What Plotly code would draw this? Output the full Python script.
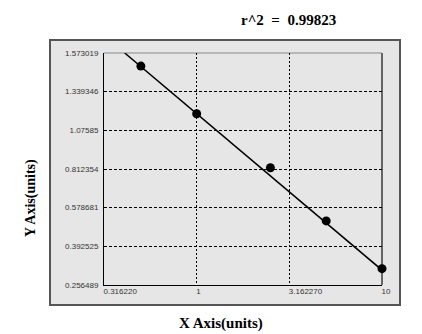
import numpy as np
import plotly.graph_objects as go

# ---- data ----
x_points = [0.5, 1.0, 2.5, 5.0, 10.0]
y_points = [1.494, 1.189, 0.821, 0.515, 0.314]
fit_x = [0.409, 10.0]
fit_y = [1.573019, 0.309]
x_tickvals = [0.31622, 1.0, 3.16227, 10.0]
x_ticktext = ["0.316220", "1", "3.162270", "10"]
y_tickvals = [0.256489, 0.392525, 0.578681, 0.812354, 1.07585, 1.339346, 1.573019]
y_ticktext = ["0.256489", "0.392525", "0.578681", "0.812354", "1.07585", "1.339346", "1.573019"]
r2_text = "r^2  =  0.99823"

# y scale: ticks evenly spaced (piecewise-linear scale between tick values)
y_pos = np.arange(len(y_tickvals), dtype=float)
def yscale(v):
    return np.interp(v, y_tickvals, y_pos)

W, H = 422, 334
L, R, T, B = 104, 382, 53, 285

fig = go.Figure()
fig.add_trace(go.Scatter(x=fit_x, y=yscale(fit_y), mode="lines",
                         line=dict(color="black", width=1.5), hoverinfo="skip"))
fig.add_trace(go.Scatter(x=x_points, y=yscale(y_points), mode="markers",
                         marker=dict(color="black", size=9), cliponaxis=False))

def px_x(p):
    return (p - L) / (R - L)
def px_y(p):
    return (B - p) / (B - T)

shapes = [
    dict(type="rect", xref="paper", yref="paper", x0=px_x(50), x1=px_x(400),
         y0=px_y(305), y1=px_y(40), fillcolor="#e6e6e6",
         line=dict(color="#555555", width=2), layer="below"),
    dict(type="line", xref="paper", yref="paper", x0=0, x1=1, y0=1, y1=1,
         line=dict(color="#888888", width=1), layer="between"),
    dict(type="line", xref="paper", yref="paper", x0=1, x1=1, y0=0, y1=1,
         line=dict(color="#666666", width=2), layer="between"),
]

fig.update_layout(
    width=W, height=H,
    margin=dict(l=L, r=W - R, t=T, b=H - B, pad=0),
    paper_bgcolor="white", plot_bgcolor="rgba(0,0,0,0)",
    showlegend=False,
    shapes=shapes,
    font=dict(family="Liberation Sans", size=8, color="#333333"),
    annotations=[
        dict(text="<b>" + r2_text + "</b>", xref="paper", yref="paper",
             x=px_x(288), y=px_y(20), xanchor="center", yanchor="middle", showarrow=False,
             font=dict(family="Liberation Serif", size=15, color="black")),
        dict(text="<b>X Axis(units)</b>", xref="paper", yref="paper",
             x=px_x(221), y=px_y(323), xanchor="center", yanchor="middle", showarrow=False,
             font=dict(family="Liberation Serif", size=15, color="black")),
        dict(text="<b>Y Axis(units)</b>", xref="paper", yref="paper",
             x=px_x(31), y=px_y(198), xanchor="center", yanchor="middle", showarrow=False,
             textangle=-90,
             font=dict(family="Liberation Serif", size=14, color="black")),
    ],
)
fig.update_xaxes(type="log", range=[np.log10(0.31622), 1.0],
                 tickvals=x_tickvals, ticktext=x_ticktext,
                 showline=True, linecolor="black", linewidth=1,
                 showgrid=True, gridcolor="black", griddash="2px,2px", gridwidth=1,
                 zeroline=False, ticks="", ticklabelstandoff=-2,
                 ticklabelposition="outside right", ticklabelshift=-1)
fig.update_yaxes(range=[0, 6], tickvals=list(y_pos), ticktext=y_ticktext,
                 showline=True, linecolor="black", linewidth=1,
                 showgrid=True, gridcolor="black", griddash="3px,2px", gridwidth=1,
                 zeroline=False, ticks="", ticklabelstandoff=3)

fig.write_html("out.html")
